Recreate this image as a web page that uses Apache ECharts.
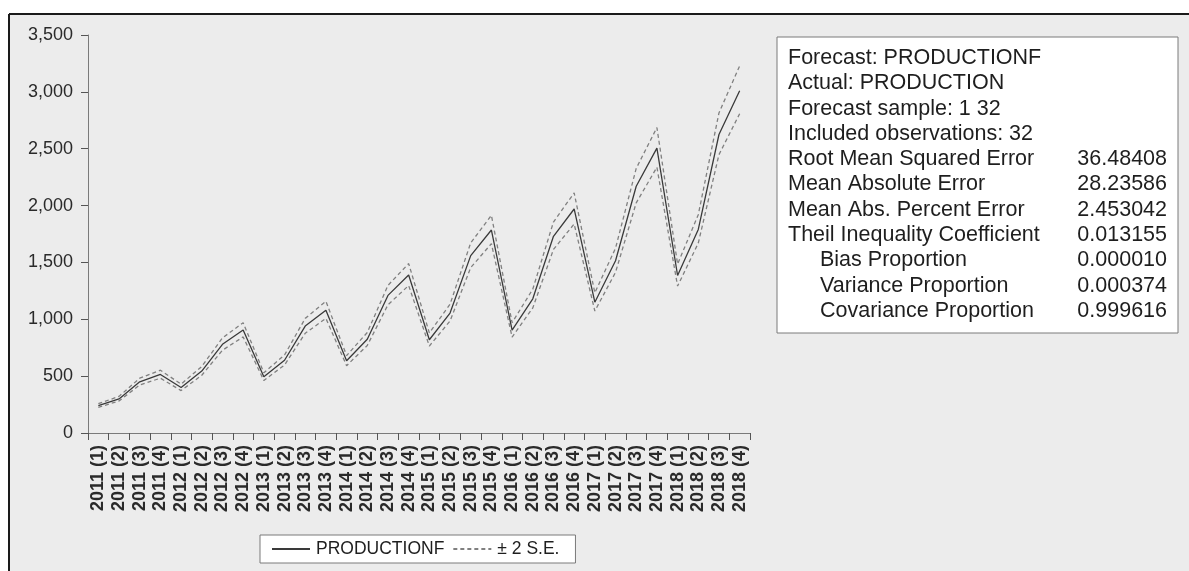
<!DOCTYPE html>
<html>
<head>
<meta charset="utf-8">
<title>PRODUCTIONF forecast</title>
<script src="https://cdn.jsdelivr.net/npm/echarts@6/dist/echarts.min.js"></script>
<style>
  html, body { margin: 0; padding: 0; background: #ffffff; }
  #chart { width: 1189px; height: 571px; }
</style>
</head>
<body>
<div id="chart"></div>
<script>
// Quarterly periods 2011 (1) .. 2018 (4)
const quarters = [
  '2011 (1)', '2011 (2)', '2011 (3)', '2011 (4)',
  '2012 (1)', '2012 (2)', '2012 (3)', '2012 (4)',
  '2013 (1)', '2013 (2)', '2013 (3)', '2013 (4)',
  '2014 (1)', '2014 (2)', '2014 (3)', '2014 (4)',
  '2015 (1)', '2015 (2)', '2015 (3)', '2015 (4)',
  '2016 (1)', '2016 (2)', '2016 (3)', '2016 (4)',
  '2017 (1)', '2017 (2)', '2017 (3)', '2017 (4)',
  '2018 (1)', '2018 (2)', '2018 (3)', '2018 (4)'
];

// Forecast of PRODUCTION
const productionF = [
  240, 300, 450, 515, 400, 545, 780, 905,
  495, 640, 940, 1080, 635, 825, 1210, 1390,
  820, 1055, 1560, 1785, 905, 1180, 1730, 1970,
  1150, 1515, 2170, 2505, 1385, 1790, 2625, 3010
];

// Upper band (+2 S.E.)
const upperBand = [
  258, 322, 482, 552, 430, 585, 836, 970,
  530, 686, 1008, 1158, 681, 884, 1298, 1490,
  880, 1132, 1672, 1914, 970, 1265, 1855, 2112,
  1233, 1625, 2327, 2686, 1485, 1920, 2815, 3228
];

// Lower band (-2 S.E.)
const lowerBand = [
  225, 282, 422, 482, 373, 508, 728, 845,
  462, 598, 877, 1008, 592, 770, 1128, 1297,
  765, 985, 1455, 1665, 844, 1100, 1614, 1838,
  1073, 1413, 2024, 2337, 1292, 1670, 2448, 2808
];

// Forecast evaluation statistics
const statLabels = [
  'Forecast: PRODUCTIONF',
  'Actual: PRODUCTION',
  'Forecast sample: 1 32',
  'Included observations: 32',
  'Root Mean Squared Error',
  'Mean Absolute Error',
  'Mean Abs. Percent Error',
  'Theil Inequality Coefficient',
  'Bias Proportion',
  'Variance Proportion',
  'Covariance Proportion'
];
const statIndented = [false, false, false, false, false, false, false, false, true, true, true];
const statValues = [
  '', '', '', '',
  '36.48408', '28.23586', '2.453042', '0.013155',
  '0.000010', '0.000374', '0.999616'
];

const FONT = "'Liberation Sans', Arial, sans-serif";
const chart = echarts.init(document.getElementById('chart'), null, { renderer: 'canvas' });

// Statistics panel built as graphic text
const statsChildren = [
  {
    type: 'rect',
    shape: { x: 777, y: 37, width: 401, height: 296 },
    style: { fill: '#ffffff', stroke: '#7a7a7a', lineWidth: 1 }
  }
];
statLabels.forEach((label, i) => {
  const y = 58 + i * 25.3;
  statsChildren.push({
    type: 'text',
    x: statIndented[i] ? 820 : 788,
    y: y,
    style: {
      text: label, fill: '#1e1e1e', font: '21.5px ' + FONT,
      textAlign: 'left', textVerticalAlign: 'middle'
    }
  });
  if (statValues[i]) {
    statsChildren.push({
      type: 'text',
      x: 1167,
      y: y,
      style: {
        text: statValues[i], fill: '#1e1e1e', font: '21.5px ' + FONT,
        textAlign: 'right', textVerticalAlign: 'middle'
      }
    });
  }
});

const option = {
  backgroundColor: '#ffffff',
  animation: false,
  textStyle: { fontFamily: FONT },
  graphic: [
    {
      // panel background with dark frame on top and left
      type: 'group',
      z: -10,
      silent: true,
      children: [
        { type: 'rect', shape: { x: 9, y: 14, width: 1180, height: 557 }, style: { fill: '#ececec' } },
        { type: 'line', shape: { x1: 9, y1: 14, x2: 1189, y2: 14 }, style: { stroke: '#1a1a1a', lineWidth: 2 } },
        { type: 'line', shape: { x1: 9, y1: 14, x2: 9, y2: 571 }, style: { stroke: '#1a1a1a', lineWidth: 2 } }
      ]
    },
    { type: 'group', silent: true, children: statsChildren }
  ],
  legend: {
    orient: 'horizontal',
    left: 260,
    top: 535,
    backgroundColor: '#ffffff',
    borderColor: '#7a7a7a',
    borderWidth: 1,
    borderRadius: 0,
    padding: [5, 16, 5, 11],
    itemGap: 8,
    itemWidth: 38,
    itemHeight: 14,
    // line-only keys: hide the marker dot on the key line
    itemStyle: { opacity: 0, borderWidth: 0 },
    textStyle: { fontSize: 17.5, color: '#1e1e1e', fontFamily: FONT, padding: [0, 0, 0, 1] },
    data: ['PRODUCTIONF', '± 2 S.E.']
  },
  grid: {
    left: 88, top: 35, right: 439, bottom: 138,
    containLabel: false,
    show: true,
    backgroundColor: '#ffffff',
    borderColor: '#7a7a7a',
    borderWidth: 1
  },
  xAxis: {
    type: 'category',
    data: quarters,
    boundaryGap: true,
    axisLine: { show: true, lineStyle: { color: '#7a7a7a', width: 1 } },
    axisTick: { show: true, interval: 0, length: 7, alignWithLabel: false, lineStyle: { color: '#555' } },
    axisLabel: {
      interval: 0, rotate: 90, margin: 12,
      fontSize: 18, fontWeight: 'bold', color: '#2a2a2a', fontFamily: FONT
    },
    splitLine: { show: false }
  },
  yAxis: {
    type: 'value',
    min: 0, max: 3500, interval: 500,
    axisLine: { show: true, lineStyle: { color: '#7a7a7a', width: 1 } },
    axisTick: { show: true, length: 7, lineStyle: { color: '#555' } },
    axisLabel: {
      margin: 15, fontSize: 18, color: '#2a2a2a', fontFamily: FONT,
      formatter: v => v.toLocaleString('en-US')
    },
    splitLine: { show: false }
  },
  series: [
    {
      name: 'PRODUCTIONF',
      type: 'line',
      data: productionF,
      symbol: 'none',
      lineStyle: { color: '#3a3a3a', width: 1.3, type: 'solid' },
      itemStyle: { color: '#3a3a3a' }
    },
    {
      name: '± 2 S.E.',
      type: 'line',
      data: upperBand,
      symbol: 'none',
      lineStyle: { color: '#808080', width: 1.3, type: [4, 3] },
      itemStyle: { color: '#808080' }
    },
    {
      name: '± 2 S.E.',
      type: 'line',
      data: lowerBand,
      symbol: 'none',
      lineStyle: { color: '#808080', width: 1.3, type: [4, 3] },
      itemStyle: { color: '#808080' }
    }
  ]
};

chart.setOption(option);
</script>
</body>
</html>
